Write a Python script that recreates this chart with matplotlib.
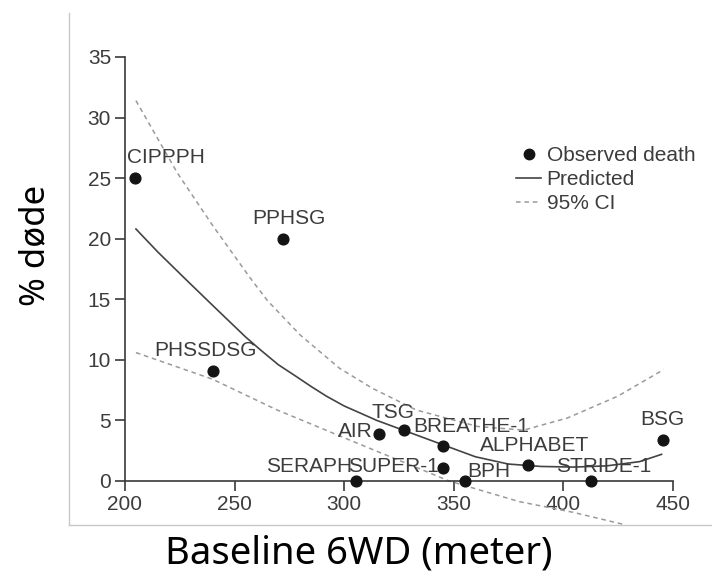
import numpy as np
import matplotlib
matplotlib.use('Agg')
import matplotlib.pyplot as plt
from matplotlib.lines import Line2D

################################################################################
# Data

trials = ['CIPPPH', 'PPHSG', 'PHSSDSG', 'AIR', 'TSG', 'BREATHE-1',
          'SERAPH', 'SUPER-1', 'BPH', 'ALPHABET', 'STRIDE-1', 'BSG']
baseline6wd = [204.6, 272.0, 240.1, 315.8, 327.6, 345.2,
               305.5, 345.2, 355.3, 384.0, 412.7, 445.6]
deaths = [25.0, 20.0, 9.06, 3.87, 4.2, 2.85,
          0.0, 1.1, 0.0, 1.35, 0.0, 3.4]

# predicted curve
predX = [205, 215, 228, 240, 255, 262, 270, 278, 285, 292, 300, 315, 330, 345, 360, 375, 390, 405, 420, 435, 445]
predY = [20.8, 18.9, 16.6, 14.5, 11.9, 10.8, 9.6, 8.65, 7.8, 7.0, 6.2, 5.0, 4.0, 3.0, 2.0, 1.4, 1.2, 1.15, 1.25, 1.6, 2.2]

# 95% CI
upX = [205, 224, 240, 257, 265, 280, 298, 313, 333, 361, 382, 402, 425, 446]
upY = [31.4, 25.4, 21.1, 16.8, 14.9, 12.05, 9.3, 7.65, 5.86, 4.5, 4.2, 5.2, 7.0, 9.2]
loX = [205, 240, 269, 307, 336, 348, 380, 405, 428]
loY = [10.6, 8.4, 5.9, 3.05, 0.9, 0.0, -1.7, -2.6, -3.6]

xTicks = [200, 250, 300, 350, 400, 450]
yTicks = [0, 5, 10, 15, 20, 25, 30, 35]

################################################################################
# Label placement (offset from point in data units, alignment)

labelPos = {
	'CIPPPH':    (-3.5, 1.7, 'left'),
	'PPHSG':     (-13.8, 1.65, 'left'),
	'PHSSDSG':   (-26.6, 1.7, 'left'),
	'AIR':       (-2.7, 0.22, 'right'),
	'TSG':       (-14.9, 1.46, 'left'),
	'BREATHE-1': (-13.8, 1.65, 'left'),
	'SERAPH':    (-1.7, 1.19, 'right'),
	'SUPER-1':   (-2.0, 0.09, 'right'),
	'BPH':       (1.2, 0.77, 'left'),
	'ALPHABET':  (-21.8, 1.55, 'left'),
	'STRIDE-1':  (-15.7, 1.19, 'left'),
	'BSG':       (-10.2, 1.65, 'left'),
}

################################################################################
# Plot

small = ['Liberation Sans', 'DejaVu Sans']
big = ['Noto Sans', 'DejaVu Sans']
textCol = '#3c3c3c'
axCol = '#3a3a3a'
dash = (0, (3, 2.5))

fig = plt.figure(figsize=(7.12, 5.85), dpi=100)
ax = fig.add_axes([125/712, 1-481/585, (672.5-125)/712, (481-57)/585])

ax.plot(predX, predY, color='#444444', lw=1.2)
ax.plot(upX, upY, color='#9a9a9a', lw=1.1, ls=dash)
ax.plot(loX, loY, color='#9a9a9a', lw=1.1, ls=dash, clip_on=False)
ax.scatter(baseline6wd, deaths, s=60, color='#141414', zorder=5, clip_on=False)

for name, x, y in zip(trials, baseline6wd, deaths):
	dx, dy, ha = labelPos[name]
	ax.text(x+dx, y+dy, name, ha=ha, va='center', fontsize=15, color=textCol,
		family=small)

ax.set_xlim(200, 450)
ax.set_ylim(0, 35)
ax.set_xticks(xTicks)
ax.set_yticks(yTicks)
for side in ['top', 'right']:
	ax.spines[side].set_visible(False)
for side in ['left', 'bottom']:
	ax.spines[side].set_color(axCol)
	ax.spines[side].set_linewidth(1.2)
ax.tick_params(length=7, width=1.2, color=axCol, labelsize=15, labelcolor=textCol, pad=3)
for lab in ax.get_xticklabels() + ax.get_yticklabels():
	lab.set_family(small)

handles = [Line2D([], [], ls='', marker='o', ms=7.5, color='#141414'),
	Line2D([], [], color='#444444', lw=1.2),
	Line2D([], [], color='#9a9a9a', lw=1.1, ls=dash)]
leg = ax.legend(handles, ['Observed death', 'Predicted', '95% CI'],
	loc='upper left', bbox_to_anchor=(0.696, 0.815), frameon=False,
	handlelength=1.2, handletextpad=0.25, labelspacing=0.25, borderpad=0,
	prop={'family': small, 'size': 15})
for t in leg.get_texts():
	t.set_color(textCol)

# big slide labels
fig.text(35/712, 1-245/585, '% døde', rotation=90, ha='center', va='center',
	fontsize=25, family=big, color='black')
fig.text(359/712, 1-553/585, 'Baseline 6WD (meter)', ha='center', va='center',
	fontsize=27.5, family=big, color='black')

# thin frame of the pasted picture
fig.add_artist(Line2D([69/712, 69/712], [1-13/585, 1-525/585], color='#c8c8c8', lw=1))
fig.add_artist(Line2D([69/712, 1], [1-525/585, 1-525/585], color='#c8c8c8', lw=1))

fig.savefig('out.png', dpi=100)
